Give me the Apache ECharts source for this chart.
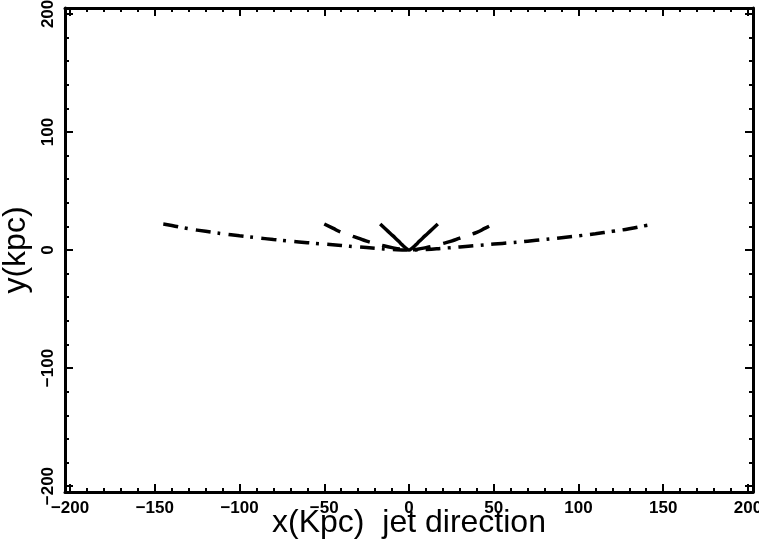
<!DOCTYPE html>
<html>
<head>
<meta charset="utf-8">
<script src="https://cdn.jsdelivr.net/npm/echarts@6/dist/echarts.min.js"></script>
<style>
html,body{margin:0;padding:0;background:#fff;}
#c{width:759px;height:548px;}
</style>
</head>
<body>
<div id="c"></div>
<script>
// ---- data ----
var dashDotX = [-145,-140,-130,-120,-110,-100,-90,-80,-70,-60,-50,-40,-30,-20,-10,0,10,20,30,40,50,60,70,80,90,100,110,120,130,140,145];
var dashDotY = [22,20.8,18,15.8,13.8,12,10.4,8.9,7.5,6.2,5,3.8,2.6,1.5,0.5,0,0.5,1.5,2.6,3.8,5,6.2,7.5,8.9,10.4,12,13.8,15.8,18,20.8,22];
var dashedX = [-50,-45,-40,-35,-30,-25,-20,-15,-10,-5,0,5,10,15,20,25,30,35,40,45,50];
var dashedY = [22,18.5,15,12.5,10,7.5,5.5,3.6,2,0.7,0,0.7,2,3.6,5.5,7.5,10,12.5,15,18.5,22];
var solidX = [-17,-14,-11,-8,-5,-3,-1.5,0,1.5,3,5,8,11,14,17];
var solidY = [22,18,14,10,5.8,3,1.2,0,1.2,3,5.8,10,14,18,22];
var xMajorTicks = [-200,-150,-100,-50,0,50,100,150,200];
var xMinorTicks = [-190,-180,-170,-160,-140,-130,-120,-110,-90,-80,-70,-60,-40,-30,-20,-10,10,20,30,40,60,70,80,90,110,120,130,140,160,170,180,190];
var yMajorTicks = [-200,-100,0,100,200];
var yMinorTicks = [-180,-160,-140,-120,-80,-60,-40,-20,20,40,60,80,120,140,160,180];
var xTitle = 'x(Kpc)  jet direction';
var yTitle = 'y(kpc)';

function pairs(xs, ys){ return xs.map(function(x,i){ return [x, ys[i]]; }); }
function fmt(v){ return String(v).replace('-', '\u2212'); }

var XMIN = -203, XMAX = 203, YMIN = -205, YMAX = 205;
var black = '#000';
var labelFont = {color: black, fontFamily: 'Liberation Sans, Arial, sans-serif', fontWeight: 'bold', fontSize: 17};

function xAx(pos, ticks, len, withLabel, showLine){
  return {
    type: 'value', position: pos, min: XMIN, max: XMAX,
    axisLine: {show: showLine, onZero: false, lineStyle: {color: black, width: 3}},
    axisTick: {show: true, inside: true, length: len, customValues: ticks, lineStyle: {color: black, width: 2}},
    axisLabel: withLabel ? Object.assign({show: true, margin: 8, customValues: ticks, formatter: fmt}, labelFont) : {show: false},
    splitLine: {show: false},
    name: withLabel ? xTitle : '',
    nameLocation: 'middle', nameGap: 15, nameMoveOverlap: false,
    nameTextStyle: {color: black, fontFamily: 'Liberation Sans, Arial, sans-serif', fontSize: 32}
  };
}
function yAx(pos, ticks, len, withLabel, showLine){
  return {
    type: 'value', position: pos, min: YMIN, max: YMAX,
    axisLine: {show: showLine, onZero: false, lineStyle: {color: black, width: 3}},
    axisTick: {show: true, inside: true, length: len, customValues: ticks, lineStyle: {color: black, width: 2}},
    axisLabel: withLabel ? Object.assign({show: true, margin: 8, rotate: 90, customValues: ticks, formatter: fmt}, labelFont) : {show: false},
    splitLine: {show: false},
    name: withLabel ? yTitle : '',
    nameLocation: 'middle', nameGap: 28, nameRotate: 90,
    nameTextStyle: {color: black, fontFamily: 'Liberation Sans, Arial, sans-serif', fontSize: 32}
  };
}

var chart = echarts.init(document.getElementById('c'), null, {renderer: 'canvas'});
chart.setOption({
  animation: false,
  backgroundColor: '#fff',
  grid: {left: 65, right: 6, top: 8, bottom: 56, containLabel: false, outerBoundsMode: 'none'},
  xAxis: [
    xAx('bottom', xMajorTicks, 8, true, true),
    xAx('bottom', xMinorTicks, 4, false, false),
    xAx('top', xMajorTicks, 8, false, true),
    xAx('top', xMinorTicks, 4, false, false)
  ],
  yAxis: [
    yAx('left', yMajorTicks, 8, true, true),
    yAx('left', yMinorTicks, 4, false, false),
    yAx('right', yMajorTicks, 8, false, true),
    yAx('right', yMinorTicks, 4, false, false)
  ],
  series: [
    {type: 'line', xAxisIndex: 0, yAxisIndex: 0, data: pairs(dashDotX, dashDotY), showSymbol: false, smooth: true,
     lineStyle: {color: black, width: 3.5, type: [15, 7, 3, 8], cap: 'butt'}},
    {type: 'line', xAxisIndex: 0, yAxisIndex: 0, data: pairs(dashedX, dashedY), showSymbol: false, smooth: true,
     lineStyle: {color: black, width: 3.5, type: [18, 13], cap: 'butt'}},
    {type: 'line', xAxisIndex: 0, yAxisIndex: 0, data: pairs(solidX, solidY), showSymbol: false, smooth: true,
     lineStyle: {color: black, width: 3.5, type: 'solid'}}
  ]
});
</script>
</body>
</html>
